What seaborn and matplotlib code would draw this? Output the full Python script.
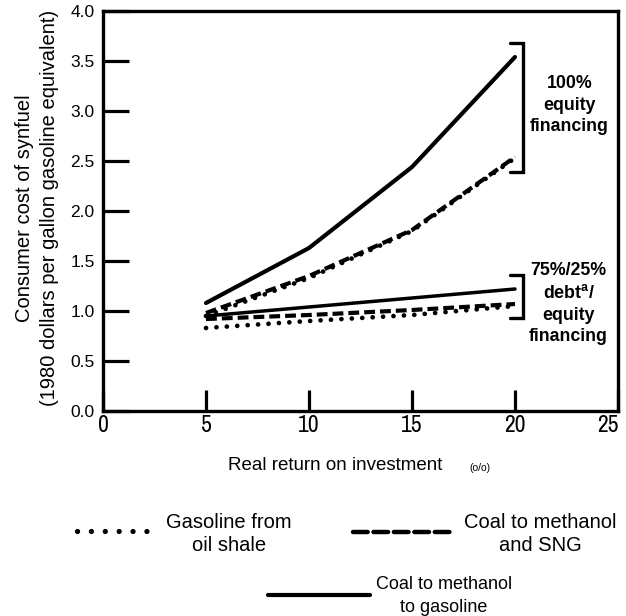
import numpy as np
import pandas as pd
import seaborn as sns
import matplotlib
matplotlib.use("Agg")
import matplotlib.pyplot as plt
from matplotlib.lines import Line2D
from matplotlib import font_manager as fm

# ---------------- data ----------------
returns = [5, 10, 15, 20]
oil_shale_equity = [0.95, 1.33, 1.80, 2.53]
methanol_sng_equity = [0.98, 1.35, 1.81, 2.54]
methanol_gasoline_equity = [1.08, 1.63, 2.44, 3.54]
oil_shale_debt = [0.83, 0.90, 0.96, 1.05]
methanol_sng_debt = [0.92, 0.96, 1.01, 1.07]
methanol_gasoline_debt = [0.95, 1.04, 1.13, 1.22]

x_ticks = [0, 5, 10, 15, 20, 25]
x_tick_labels = ["0", "5", "10", "15", "20", "25"]
y_ticks = [0.0, 0.5, 1.0, 1.5, 2.0, 2.5, 3.0, 3.5, 4.0]
y_tick_labels = ["0.0", "0.5", "1.0", "1.5", "2.0", "2.5", "3.0", "3.5", "4.0"]

series_names = ["Gasoline from oil shale", "Coal to methanol and SNG",
                "Coal to methanol to gasoline"]
legend_labels = ["Gasoline from\noil shale", "Coal to methanol\nand SNG",
                 "Coal to methanol\nto gasoline"]
equity_label = "100%\nequity\nfinancing"
debt_label = "75%/25%\ndebt$^{\\mathbf{a}}$/\nequity\nfinancing"
x_label = "Real return on investment"
x_label_unit = "(o/o)"
y_label = "Consumer cost of synfuel\n(1980 dollars per gallon gasoline equivalent)"

# bracket extents (y ranges) for annotations
equity_bracket = (2.39, 3.68)
debt_bracket = (0.93, 1.36)

rows = []
for fin, vals in [("equity", [oil_shale_equity, methanol_sng_equity, methanol_gasoline_equity]),
                  ("debt", [oil_shale_debt, methanol_sng_debt, methanol_gasoline_debt])]:
    for name, v in zip(series_names, vals):
        for r, c in zip(returns, v):
            rows.append({"series": name, "financing": fin, "return": r, "cost": c})
df = pd.DataFrame(rows)

# ---------------- style ----------------
sns.set_style("white")
plt.rcParams['font.family'] = ['Liberation Sans', 'DejaVu Sans']
plt.rcParams['text.color'] = 'black'
plt.rcParams['xtick.color'] = 'black'
plt.rcParams['ytick.color'] = 'black'
plt.rcParams['axes.labelcolor'] = 'black'
plt.rcParams['mathtext.fontset'] = 'custom'
plt.rcParams['mathtext.bf'] = 'Liberation Sans:bold'
plt.rcParams['mathtext.rm'] = 'Liberation Sans'

# look for a narrow / condensed face for the x tick labels
narrow_fp = None
for f in fm.fontManager.ttflist:
    if 'Narrow' in f.name and f.weight in (400, 'normal', 'regular') and f.style == 'normal':
        narrow_fp = fm.FontProperties(fname=f.fname, size=17)
        break
if narrow_fp is None:
    for f in fm.fontManager.ttflist:
        if str(f.stretch) in ('condensed', 'semi-condensed') and f.style == 'normal' \
                and f.weight in (400, 'normal', 'regular') and 'Sans' in f.name \
                and 'Mono' not in f.name:
            narrow_fp = fm.FontProperties(fname=f.fname, size=15.5)
            break
if narrow_fp is None:
    narrow_fp = fm.FontProperties(family='Liberation Sans', size=14)

fig = plt.figure(figsize=(6.26, 6.16), dpi=100)
ax = fig.add_axes([103/626, 1-411/616, 515/626, 400/616])

styles = {
    "Gasoline from oil shale": dict(linestyle=(0, (0.01, 2.2)), linewidth=3.4,
                                    dash_capstyle='round'),
    "Coal to methanol and SNG": dict(linestyle=(0, (2.6, 1.2)), linewidth=3.0,
                                     dash_capstyle='butt'),
    "Coal to methanol to gasoline": dict(linestyle='-', linewidth=3.0,
                                         solid_capstyle='round'),
}
legend_styles = {
    "Gasoline from oil shale": dict(linestyle=(0, (0.01, 2.62)), linewidth=3.8,
                                    dash_capstyle='round'),
    "Coal to methanol and SNG": dict(linestyle=(0, (3.3, 1.3)), linewidth=3.2,
                                     dash_capstyle='round'),
    "Coal to methanol to gasoline": dict(linestyle='-', linewidth=3.0,
                                         solid_capstyle='round'),
}

for fin in ["equity", "debt"]:
    for name in series_names:
        sub = df[(df.series == name) & (df.financing == fin)]
        st = dict(styles[name])
        if name == "Coal to methanol to gasoline" and fin == "debt":
            st["linewidth"] = 2.5
        sns.lineplot(data=sub, x="return", y="cost", ax=ax, color="black",
                     legend=False, **st)

ax.set_xlim(0, 25)
ax.set_ylim(0, 4)
ax.set_xticks(x_ticks)
ax.set_xticklabels(x_tick_labels)
for lab in ax.get_xticklabels():
    lab.set_fontproperties(narrow_fp)
ax.get_xticklabels()[-1].set_ha('right')
ax.set_yticks(y_ticks)
ax.set_yticklabels(y_tick_labels, fontsize=12.5)
ax.tick_params(axis='y', direction='in', length=19, width=2.3, pad=6,
               color='black', left=True)
ax.tick_params(axis='x', direction='in', length=15, width=2.3, pad=3,
               color='black', bottom=True)
for s in ax.spines.values():
    s.set_visible(True)
    s.set_linewidth(2.4)
    s.set_color('black')
ax.set_xlabel("")
ax.set_ylabel("")

# brackets
for (y0, y1) in [equity_bracket, debt_bracket]:
    ax.plot([19.75, 20.4, 20.4, 19.75], [y1, y1, y0, y0], color='black',
            linewidth=2.4, clip_on=False, solid_joinstyle='miter')

ax.text(22.65, 3.06, equity_label, ha='center', va='center', fontsize=12.8,
        fontweight='bold', linespacing=1.38)
ax.text(22.6, 1.075, debt_label, ha='center', va='center', fontsize=12.8,
        fontweight='bold', linespacing=1.36)

# axis labels
fig.text(37.5/626, 1-208/616, y_label, rotation=90, ha='center', va='center',
         fontsize=14.5, linespacing=1.4)
fig.text(335/626, 1-465/616, x_label, ha='center', va='center', fontsize=13.5)
fig.text(480/626, 1-468/616, x_label_unit, ha='center', va='center', fontsize=7.5)

# legend (manual)
leg_specs = [
    (series_names[0], legend_labels[0], (77, 149, 531), (229, 534), 14.5, 1.26),
    (series_names[1], legend_labels[1], (353, 455, 532), (540, 534), 14.5, 1.26),
    (series_names[2], legend_labels[2], (268, 370, 595), (444, 596), 13, 1.4),
]
for name, lab, (x0, x1, yl), (tx, ty), fs, ls in leg_specs:
    st = dict(legend_styles[name])
    fig.add_artist(Line2D([x0/626, x1/626], [1-yl/616, 1-yl/616],
                          transform=fig.transFigure, color='black', **st))
    fig.text(tx/626, 1-ty/616, lab, ha='center', va='center', fontsize=fs,
             linespacing=ls)

fig.savefig("out.png", dpi=100)
